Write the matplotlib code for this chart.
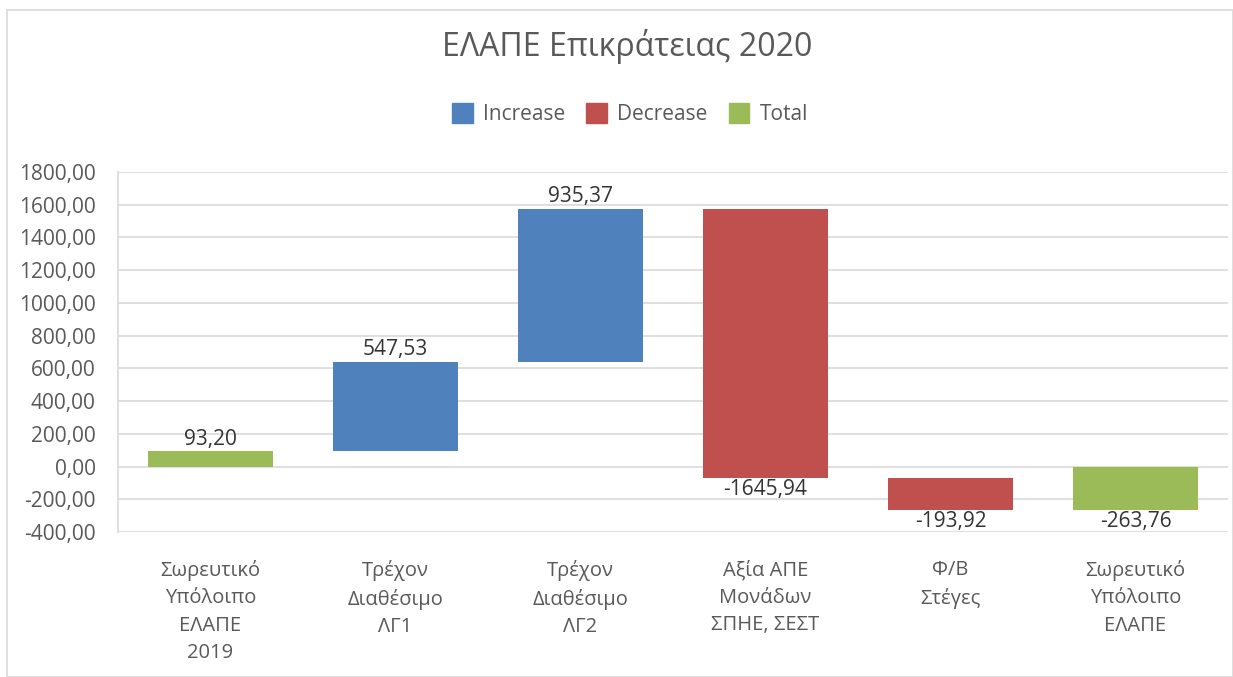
import matplotlib
matplotlib.use("Agg")
import matplotlib.pyplot as plt
from matplotlib.patches import Patch, Rectangle

plt.rcParams['font.family'] = ['Open Sans', 'DejaVu Sans']

categories = ["Σωρευτικό\nΥπόλοιπο\nΕΛΑΠΕ\n2019", "Τρέχον\nΔιαθέσιμο\nΛΓ1",
              "Τρέχον\nΔιαθέσιμο\nΛΓ2", "Αξία ΑΠΕ\nΜονάδων\nΣΠΗΕ, ΣΕΣΤ",
              "Φ/Β\nΣτέγες", "Σωρευτικό\nΥπόλοιπο\nΕΛΑΠΕ"]
values = [93.20, 547.53, 935.37, -1645.94, -193.92, -263.76]
kinds = ["Total", "Increase", "Increase", "Decrease", "Decrease", "Total"]
labels = ["93,20", "547,53", "935,37", "-1645,94", "-193,92", "-263,76"]
yticks = [-400, -200, 0, 200, 400, 600, 800, 1000, 1200, 1400, 1600, 1800]

colors = {"Increase": "#4f81bd", "Decrease": "#c0504d", "Total": "#9bbb59"}
text_color = "#595959"

fig = plt.figure(figsize=(12.33, 6.77), dpi=100)
ax = fig.add_axes([118/1233, 1 - 532/677, (1228-118)/1233, (532-172)/677])

running = 0.0
for i, (v, k, lab) in enumerate(zip(values, kinds, labels)):
    if k == "Total":
        bottom, top = 0.0, v
        running = v
    else:
        bottom, top = running, running + v
        running = running + v
    lo, hi = min(bottom, top), max(bottom, top)
    ax.bar(i, hi - lo, bottom=lo, width=0.675, color=colors[k], zorder=3)
    if v >= 0:
        ax.text(i, hi + 8, lab, ha='center', va='bottom', fontsize=15, color="#333333")
    else:
        ax.text(i, lo - 8, lab, ha='center', va='top', fontsize=15, color="#333333")

ax.set_xlim(-0.5, len(values) - 0.5)
ax.set_ylim(-400, 1800)
ax.set_yticks(yticks)
ax.set_yticklabels([f"{t:.2f}".replace('.', ',') for t in yticks], fontsize=15, color=text_color)
ax.set_xticks(range(len(categories)))
ax.set_xticklabels(categories, fontsize=14.5, color=text_color, linespacing=1.5)
ax.tick_params(axis='y', length=0, pad=16)
ax.tick_params(axis='x', length=0, pad=20)
ax.grid(axis='y', color="#d9d9d9", linewidth=1.2, zorder=0)
for s in ['top', 'right', 'bottom']:
    ax.spines[s].set_visible(False)
ax.spines['left'].set_color("#d9d9d9")
ax.spines['left'].set_linewidth(1.2)

fig.text(627/1233, 1 - 47/677, "ΕΛΑΠΕ Επικράτειας 2020", ha='center', va='center',
         fontsize=23, color=text_color)

handles = [Patch(color=colors[k]) for k in ["Increase", "Decrease", "Total"]]
fig.legend(handles, ["Increase", "Decrease", "Total"], loc='center',
           bbox_to_anchor=(630/1233, 1 - 114/677), ncol=3, frameon=False,
           fontsize=15, labelcolor=text_color, handlelength=1.0, handleheight=1.1,
           handletextpad=0.5, columnspacing=1.0)

fig.patches.append(Rectangle((7/1233, 0), (1233-7)/1233, 1 - 10/677, transform=fig.transFigure,
                             fill=False, edgecolor="#d9d9d9", linewidth=1.2))

fig.savefig("out.png", dpi=100)
